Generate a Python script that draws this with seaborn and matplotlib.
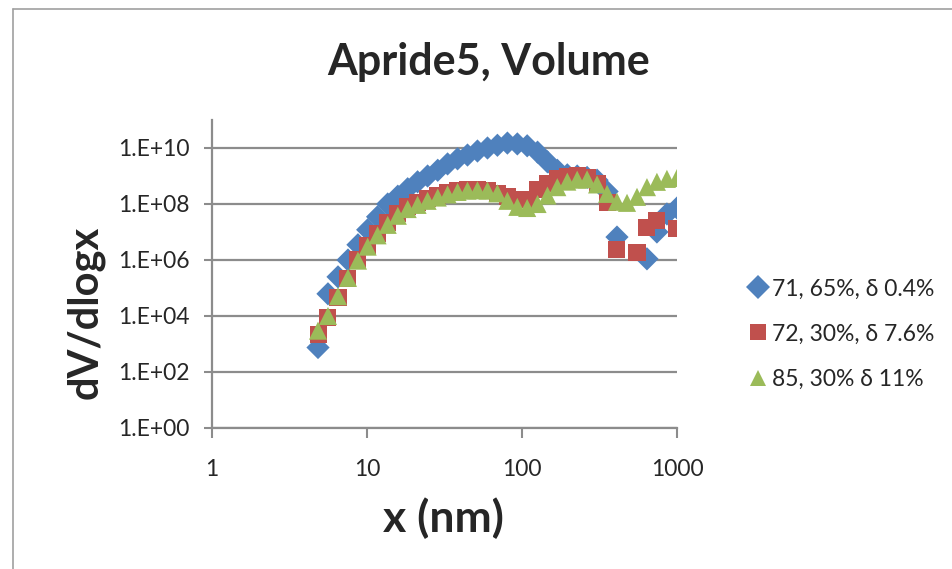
import numpy as np
import pandas as pd
import seaborn as sns
import matplotlib.pyplot as plt
from matplotlib.lines import Line2D

sns.set_style('white')
plt.rcParams['font.family'] = ['Lato', 'DejaVu Sans']

# tamaños de partícula (nm)
x_nm = [4.83, 5.60, 6.50, 7.54, 8.74, 10.1, 11.7, 13.6, 15.8, 18.3, 21.2, 24.6,
        28.6, 33.1, 38.4, 44.5, 51.6, 59.9, 69.4, 80.5, 93.3, 108, 126, 146,
        169, 196, 227, 263, 305, 354, 410, 476, 552, 640, 742, 861, 1000]

# dV/dlogx por muestra (nan = sin punto en escala log)
s71 = [7.5e2, 6.2e4, 2.5e5, 1.0e6, 3.5e6, 1.2e7, 3.5e7, 1.0e8, 1.9e8, 3.5e8, 6.2e8, 1.0e9,
       1.6e9, 2.7e9, 4.1e9, 5.6e9, 7.8e9, 1.0e10, 1.25e10, 1.5e10, 1.4e10, 1.2e10, 7.1e9, 3.2e9,
       1.6e9, 1.1e9, 1.0e9, 8.9e8, 7.1e8, 2.8e8, 6.6e6, np.nan, np.nan, 1.1e6, 1.0e7, 4.4e7, 7.2e7]
s72 = [2.2e3, 8.9e3, 4.5e4, 2.2e5, 1.0e6, 3.2e6, 8.9e6, 2.2e7, 4.5e7, 7.9e7, 1.1e8, 1.6e8,
       2.0e8, 2.5e8, 3.0e8, 3.3e8, 3.3e8, 3.0e8, 2.4e8, 1.8e8, 1.4e8, 1.45e8, 3.2e8, 5.6e8,
       7.9e8, 9.5e8, 1.0e9, 8.9e8, 5.6e8, 1.1e8, 2.3e6, np.nan, 1.9e6, 1.4e7, 2.5e7, np.nan, 1.3e7]
s85 = [3.0e3, 1.0e4, 5.1e4, 2.3e5, 9.5e5, 3.0e6, 7.6e6, 1.8e7, 3.8e7, 6.6e7, 9.3e7, 1.3e8,
       1.7e8, 2.2e8, 2.7e8, 3.0e8, 3.1e8, 3.0e8, 2.4e8, 1.3e8, 7.9e7, 7.2e7, 1.0e8, 2.0e8,
       4.0e8, 6.3e8, 7.4e8, 7.6e8, 5.0e8, 2.3e8, 1.2e8, 1.1e8, 1.8e8, 4.0e8, 6.2e8, 7.9e8, 8.5e8]

etiquetas = ['71, 65%, δ 0.4%', '72, 30%, δ 7.6%', '85, 30% δ 11%']
colores = ['#4F81BD', '#C0504D', '#9BBB59']
marcadores = ['D', 's', '^']
tamanos = [140, 150, 170]
y_ticks = [1e0, 1e2, 1e4, 1e6, 1e8, 1e10]
y_tick_labels = ['1.E+00', '1.E+02', '1.E+04', '1.E+06', '1.E+08', '1.E+10']
x_ticks = [1, 10, 100, 1000]

df = pd.DataFrame({
    'x': x_nm * 3,
    'y': s71 + s72 + s85,
    'serie': [etiquetas[0]] * len(x_nm) + [etiquetas[1]] * len(x_nm) + [etiquetas[2]] * len(x_nm),
}).dropna()

fig = plt.figure(figsize=(9.53, 5.69), dpi=100)
ax = fig.add_axes([212 / 953, 1 - 428 / 569, 465 / 953, 308 / 569])

gris = '#8C8C8C'
for yt in y_ticks:
    ax.axhline(yt, color=gris, lw=1.6, zorder=0)

for i, et in enumerate(etiquetas):
    sns.scatterplot(data=df[df['serie'] == et], x='x', y='y', ax=ax,
                    color=colores[i], marker=marcadores[i], s=tamanos[i],
                    edgecolor='none', linewidth=0, zorder=3 + i, legend=False)

ax.set_xscale('log')
ax.set_yscale('log')
ax.set_xlim(1, 1000)
ax.set_ylim(1e0, 1e11)
ax.set_xticks(x_ticks)
ax.set_xticklabels([str(v) for v in x_ticks])
ax.set_yticks(y_ticks)
ax.set_yticklabels(y_tick_labels)
ax.minorticks_off()
ax.set_xlabel('')
ax.set_ylabel('')
ax.tick_params(axis='y', length=6, width=1.5, color=gris, pad=10, labelsize=16.5, direction='out', left=True)
ax.tick_params(axis='x', length=7, width=1.5, color=gris, pad=15, labelsize=16.5, direction='out', bottom=True)
for lado in ['top', 'right']:
    ax.spines[lado].set_visible(False)
for lado in ['left', 'bottom']:
    ax.spines[lado].set_color(gris)
    ax.spines[lado].set_linewidth(1.6)

fig.text(489 / 953, 1 - 62 / 569, 'Apride5, Volume', ha='center', va='center',
         fontsize=31, fontweight='bold')
fig.text(85 / 953, 1 - 312 / 569, 'dV/dlogx', ha='center', va='center', rotation=90,
         fontsize=30, fontweight='bold')
fig.text(443 / 953, 1 - 518 / 569, 'x (nm)', ha='center', va='center',
         fontsize=32, fontweight='bold')

handles = [Line2D([], [], ls='none', marker=marcadores[i], color=colores[i],
                  markersize=12, markeredgewidth=0) for i in range(3)]
fig.legend(handles, etiquetas, loc='center left', bbox_to_anchor=(736 / 953, 1 - 334 / 569),
           frameon=False, fontsize=16.5, handletextpad=0.05, labelspacing=1.05,
           handlelength=1.1, borderaxespad=0)

# borde del gráfico
fig.add_artist(Line2D([13 / 953, 13 / 953], [0, 1 - 9 / 569], color='#A0A0A0', lw=1.2))
fig.add_artist(Line2D([13 / 953, 1], [1 - 9 / 569, 1 - 9 / 569], color='#A0A0A0', lw=1.2))

fig.savefig('out.png', dpi=100)
